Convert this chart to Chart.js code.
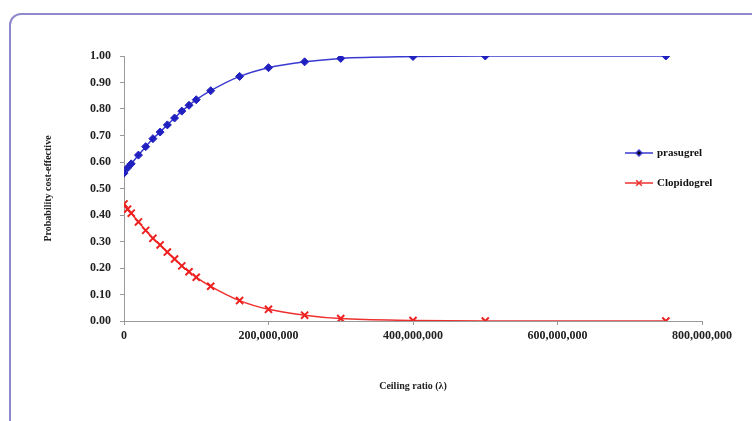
<!DOCTYPE html>
<html>
<head>
<meta charset="utf-8">
<script src="https://cdn.jsdelivr.net/npm/chart.js@4"></script>
<style>
    html, body { margin: 0; padding: 0; background: #fff; overflow: hidden; }
    #wrap { position: relative; width: 752px; height: 421px; }
    #frame {
        position: absolute; left: 9px; top: 13px; width: 760px; height: 420px;
        border: 2px solid #8f89cc; border-radius: 12px; box-sizing: border-box;
    }
    canvas { position: absolute; left: 0; top: 0; }
</style>
</head>
<body>
<div id="wrap">
    <div id="frame"></div>
    <canvas id="ceac" width="752" height="421"></canvas>
</div>
<script>
// ceiling ratio (lambda) values
const lambdas = [0, 5e6, 10e6, 20e6, 30e6, 40e6, 50e6, 60e6, 70e6, 80e6, 90e6, 100e6,
    120e6, 160e6, 200e6, 250e6, 300e6, 400e6, 500e6, 750e6];
const prasugrel = [0.558, 0.578, 0.593, 0.626, 0.658, 0.688, 0.713, 0.740, 0.766, 0.792, 0.814, 0.835,
    0.869, 0.923, 0.956, 0.978, 0.991, 0.998, 1.0, 1.0];
const clopidogrel = [0.442, 0.422, 0.407, 0.374, 0.342, 0.312, 0.287, 0.260, 0.234, 0.208, 0.186, 0.165,
    0.131, 0.077, 0.044, 0.022, 0.009, 0.002, 0.0, 0.0];
const xTicks = [0, 200e6, 400e6, 600e6, 800e6];

const serif = '"Liberation Serif", "Times New Roman", serif';

function toPoints(ys) {
    return lambdas.map((x, i) => ({ x: x, y: ys[i] }));
}

// legend drawn inside the plot, like the Excel original
const insideLegend = {
    id: 'insideLegend',
    afterDraw(chart) {
        const ctx = chart.ctx;
        const items = [
            { ds: chart.data.datasets[0], y: 153 },
            { ds: chart.data.datasets[1], y: 183 }
        ];
        ctx.save();
        items.forEach(it => {
            ctx.strokeStyle = it.ds.borderColor;
            ctx.lineWidth = 1.5;
            ctx.beginPath();
            ctx.moveTo(625, it.y);
            ctx.lineTo(653, it.y);
            ctx.stroke();
            Chart.helpers.drawPoint(ctx, {
                pointStyle: it.ds.pointStyle,
                radius: it.ds.pointRadius - 1,
                borderWidth: it.ds.pointBorderWidth
            }, 639, it.y);
            ctx.fillStyle = '#111';
            ctx.font = 'bold 11px ' + serif;
            ctx.textBaseline = 'middle';
            ctx.fillText(it.ds.label, 657, it.y);
        });
        ctx.restore();
    }
};

new Chart(document.getElementById('ceac'), {
    type: 'line',
    data: {
        datasets: [{
            label: 'prasugrel',
            data: toPoints(prasugrel),
            borderColor: '#3a3ad0',
            backgroundColor: '#2020c0',
            borderWidth: 1.5,
            pointStyle: 'rectRot',
            pointRadius: 4,
            pointBorderWidth: 1,
            pointBorderColor: '#2020c0',
            tension: 0.4,
            cubicInterpolationMode: 'monotone'
        }, {
            label: 'Clopidogrel',
            data: toPoints(clopidogrel),
            borderColor: '#ee3030',
            backgroundColor: '#ee2020',
            borderWidth: 1.5,
            pointStyle: 'crossRot',
            pointRadius: 5,
            pointBorderWidth: 2,
            pointBorderColor: '#ee2020',
            tension: 0.4,
            cubicInterpolationMode: 'monotone'
        }]
    },
    options: {
        responsive: false,
        animation: false,
        layout: { padding: { left: 38, right: 50, top: 56, bottom: 25 } },
        plugins: {
            legend: { display: false },
            tooltip: { enabled: false }
        },
        scales: {
            x: {
                type: 'linear',
                min: 0,
                max: 800e6,
                afterBuildTicks: s => { s.ticks = xTicks.map(v => ({ value: v })); },
                afterFit: s => { s.height = 75; },
                grid: { drawOnChartArea: false, tickLength: 4, color: '#999' },
                border: { color: '#999' },
                ticks: {
                    padding: 4,
                    color: '#222',
                    font: { family: serif, size: 12, weight: 'bold' },
                    maxRotation: 0,
                    callback: v => v.toLocaleString('en-US')
                },
                title: {
                    display: true,
                    text: 'Ceiling ratio (λ)',
                    color: '#222',
                    font: { family: serif, size: 10, weight: 'bold' }
                }
            },
            y: {
                min: 0,
                max: 1,
                afterFit: s => { s.width = 86; },
                grid: { drawOnChartArea: false, tickLength: 4, color: '#999' },
                border: { color: '#999' },
                ticks: {
                    stepSize: 0.1,
                    padding: 9,
                    color: '#222',
                    font: { family: serif, size: 12, weight: 'bold' },
                    callback: v => v.toFixed(2)
                },
                title: {
                    display: true,
                    text: 'Probability cost-effective',
                    color: '#222',
                    font: { family: serif, size: 10, weight: 'bold' }
                }
            }
        }
    },
    plugins: [insideLegend]
});
</script>
</body>
</html>
